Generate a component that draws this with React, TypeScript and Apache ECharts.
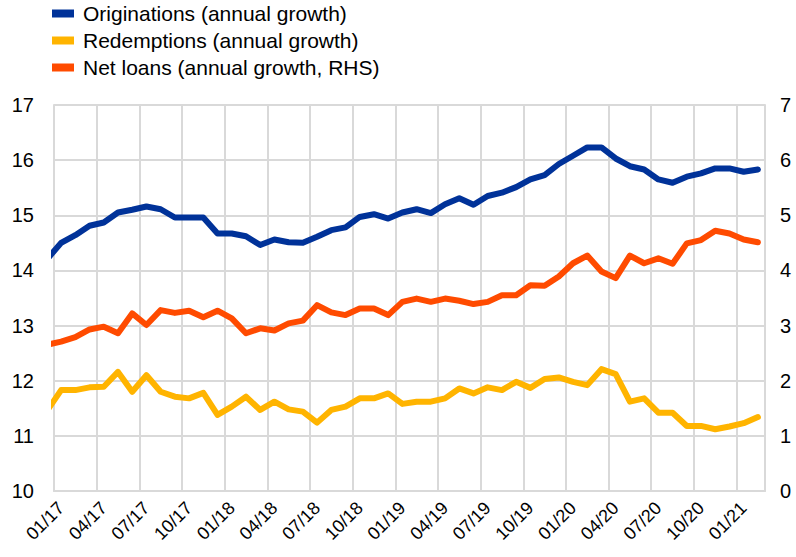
import React, { useEffect, useRef } from "react";
import * as echarts from "echarts";

// Monthly observations; the first (12/16) lies just left of the plotted range and is clipped.
const months = [
  "12/16",
  "01/17", "02/17", "03/17", "04/17", "05/17", "06/17", "07/17", "08/17", "09/17", "10/17", "11/17", "12/17",
  "01/18", "02/18", "03/18", "04/18", "05/18", "06/18", "07/18", "08/18", "09/18", "10/18", "11/18", "12/18",
  "01/19", "02/19", "03/19", "04/19", "05/19", "06/19", "07/19", "08/19", "09/19", "10/19", "11/19", "12/19",
  "01/20", "02/20", "03/20", "04/20", "05/20", "06/20", "07/20", "08/20", "09/20", "10/20", "11/20", "12/20",
  "01/21", "02/21",
];

const originations = [
  14.2,
  14.5, 14.64, 14.81, 14.87, 15.05, 15.1, 15.16, 15.11, 14.96, 14.96, 14.96, 14.67,
  14.67, 14.62, 14.46, 14.56, 14.51, 14.5, 14.61, 14.73, 14.78, 14.97, 15.02, 14.94,
  15.05, 15.11, 15.04, 15.2, 15.31, 15.19, 15.35, 15.41, 15.51, 15.65, 15.73, 15.93,
  16.08, 16.23, 16.23, 16.03, 15.89, 15.83, 15.65, 15.59, 15.7, 15.76, 15.85, 15.85,
  15.79, 15.83,
];

const redemptions = [
  11.45,
  11.83, 11.83, 11.88, 11.89, 12.16, 11.8, 12.1, 11.8, 11.71, 11.68, 11.78, 11.38,
  11.53, 11.71, 11.47, 11.62, 11.48, 11.44, 11.24, 11.47, 11.53, 11.68, 11.68, 11.77,
  11.58, 11.62, 11.62, 11.68, 11.86, 11.77, 11.88, 11.83, 11.98, 11.87, 12.03, 12.06,
  11.98, 11.92, 12.21, 12.12, 11.62, 11.68, 11.42, 11.42, 11.18, 11.18, 11.12, 11.17,
  11.23, 11.34,
];

const netLoans = [
  2.65,
  2.71, 2.79, 2.93, 2.98, 2.86, 3.22, 3.01, 3.28, 3.23, 3.27, 3.15, 3.27,
  3.13, 2.86, 2.95, 2.91, 3.04, 3.09, 3.37, 3.24, 3.19, 3.31, 3.31, 3.19,
  3.43, 3.49, 3.43, 3.49, 3.45, 3.39, 3.43, 3.55, 3.55, 3.73, 3.72, 3.89,
  4.13, 4.27, 3.98, 3.86, 4.27, 4.13, 4.22, 4.12, 4.49, 4.55, 4.72, 4.67,
  4.56, 4.51,
];

const seriesNames = [
  "Originations (annual growth)",
  "Redemptions (annual growth)",
  "Net loans (annual growth, RHS)",
];

const FONT = "'Liberation Sans', Arial, sans-serif";
const GRID = "#d9d9d9";

export default function App() {
  const ref = useRef<HTMLDivElement>(null);

  useEffect(() => {
    if (!ref.current) return;
    const chart = echarts.init(ref.current, undefined, { renderer: "svg" });
    const axisLabels = months.slice(1);
    const toPairs = (vals: number[]) => vals.map((v, k) => [k - 0.5, v]);

    chart.setOption({
      animation: false,
      textStyle: { fontFamily: FONT },
      color: ["#003299", "#FFB400", "#FF4B00"],
      grid: { left: 54, right: 31, top: 105, bottom: 66, containLabel: false },
      legend: {
        data: seriesNames,
        orient: "vertical",
        left: 47,
        top: -2,
        itemWidth: 22,
        itemHeight: 8,
        itemGap: 6,
        icon: "rect",
        textStyle: { fontSize: 21, color: "#000", fontFamily: FONT, padding: [0, 0, 0, 4] },
      },
      xAxis: [
        {
          type: "value",
          min: 0,
          max: axisLabels.length,
          interval: 3,
          axisLabel: { show: false },
          axisTick: { show: false },
          axisLine: { show: true, lineStyle: { color: GRID, width: 2 } },
          splitLine: { show: true, lineStyle: { color: GRID, width: 2 } },
        },
        {
          type: "category",
          position: "bottom",
          data: axisLabels,
          boundaryGap: true,
          axisLine: { show: false },
          axisTick: { show: false },
          splitLine: { show: false },
          axisLabel: {
            interval: 2,
            rotate: 45,
            fontSize: 18,
            color: "#000",
            margin: 14,
            fontFamily: FONT,
          },
        },
      ],
      yAxis: [
        {
          type: "value",
          position: "left",
          min: 10,
          max: 17,
          interval: 1,
          axisLine: { show: true, lineStyle: { color: GRID, width: 2 } },
          axisTick: { show: false },
          splitLine: { show: true, lineStyle: { color: GRID, width: 2 } },
          axisLabel: { fontSize: 20, color: "#000", margin: 20, fontFamily: FONT },
        },
        {
          type: "value",
          position: "right",
          min: 0,
          max: 7,
          interval: 1,
          axisLine: { show: true, lineStyle: { color: GRID, width: 2 } },
          axisTick: { show: false },
          splitLine: { show: false },
          axisLabel: { fontSize: 20, color: "#000", margin: 15, fontFamily: FONT },
        },
      ],
      series: [
        {
          name: seriesNames[0],
          type: "line",
          xAxisIndex: 0,
          yAxisIndex: 0,
          data: toPairs(originations),
          showSymbol: false,
          symbol: "none",
          clip: true,
          lineStyle: { width: 6, cap: "round", join: "round" },
        },
        {
          name: seriesNames[1],
          type: "line",
          xAxisIndex: 0,
          yAxisIndex: 0,
          data: toPairs(redemptions),
          showSymbol: false,
          symbol: "none",
          clip: true,
          lineStyle: { width: 6, cap: "round", join: "round" },
        },
        {
          name: seriesNames[2],
          type: "line",
          xAxisIndex: 0,
          yAxisIndex: 1,
          data: toPairs(netLoans),
          showSymbol: false,
          symbol: "none",
          clip: true,
          lineStyle: { width: 6, cap: "round", join: "round" },
        },
      ],
    });

    return () => chart.dispose();
  }, []);

  return (
    <div
      ref={ref}
      style={{ position: "fixed", left: 0, top: 0, width: 796, height: 557, background: "#fff" }}
    />
  );
}
